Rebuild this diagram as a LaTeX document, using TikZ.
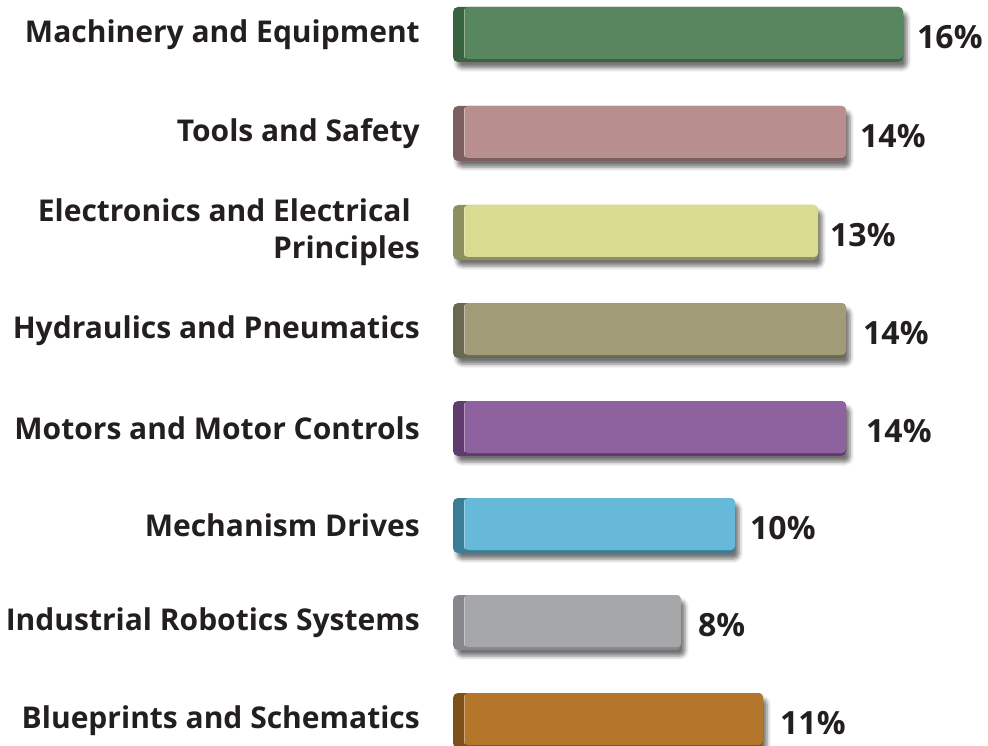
\documentclass[tikz,border=0pt]{standalone}
\usepackage{fontspec}
\setmainfont{Open Sans}
\usepackage{xcolor}
\usetikzlibrary{positioning,shadows.blur}
\definecolor{txt}{RGB}{35,31,32}
\definecolor{face1}{RGB}{88,134,94}
\definecolor{side1}{RGB}{56,98,64}
\definecolor{face2}{RGB}{184,143,142}
\definecolor{side2}{RGB}{125,95,95}
\definecolor{face3}{RGB}{217,219,144}
\definecolor{side3}{RGB}{141,143,95}
\definecolor{face4}{RGB}{162,155,120}
\definecolor{side4}{RGB}{107,104,80}
\definecolor{face5}{RGB}{142,98,159}
\definecolor{side5}{RGB}{96,60,110}
\definecolor{face6}{RGB}{102,185,216}
\definecolor{side6}{RGB}{60,125,150}
\definecolor{face7}{RGB}{166,167,169}
\definecolor{side7}{RGB}{135,136,139}
\definecolor{face8}{RGB}{180,118,43}
\definecolor{side8}{RGB}{125,80,25}

\begin{document}
\begin{tikzpicture}[x=1pt,y=-1pt,
  barbase/.style={rounded corners=5pt,blur shadow={shadow xshift=4pt,shadow yshift=-6pt,shadow blur radius=4pt,shadow opacity=55}},
  barface/.style={rounded corners=4pt},
  edge/.style={white,opacity=.35,line width=1pt},
  cat/.style={font=\fontsize{30}{37}\selectfont\bfseries,text=txt,inner sep=0pt,align=right},
  pct/.style={font=\fontsize{32}{38}\selectfont\bfseries,text=txt,inner sep=0pt}]
\useasboundingbox (0,0) rectangle (988,746);
% Machinery
\fill[side1,barbase] (453,7) rectangle (903,62); % base
\fill[face1,barface] (464,7) rectangle (903,59); % face
\draw[edge] (464.5,9) -- (464.5,58); % light edge
\node[cat,left = 33pt of {(453,34.5)}] (cat1) {Machinery and Equipment};
\node[pct,right = 14pt of {(903,37.5)}] (pct1) {16\%};
% Tools
\fill[side2,barbase] (453,106) rectangle (846,161);
\fill[face2,barface] (464,106) rectangle (846,158);
\draw[edge] (464.5,108) -- (464.5,157);
\node[cat,left = 33pt of {(453,133.5)}] (cat2) {Tools and Safety};
\node[pct,right = 14pt of {(846,136.5)}] (pct2) {14\%};
% Electronics
\fill[side3,barbase] (453,205) rectangle (818,260);
\fill[face3,barface] (464,205) rectangle (818,257);
\draw[edge] (464.5,207) -- (464.5,256);
\node[cat,left = 33pt of {(453,232.5)}] (cat3) {Electronics and Electrical\kern9pt\\Principles};
\node[pct,right = 12pt of {(818,235.5)}] (pct3) {13\%};
% Hydraulics
\fill[side4,barbase] (453,303) rectangle (846,358);
\fill[face4,barface] (464,303) rectangle (846,355);
\draw[edge] (464.5,305) -- (464.5,354);
\node[cat,left = 33pt of {(453,330.5)}] (cat4) {Hydraulics and Pneumatics};
\node[pct,right = 17pt of {(846,333.5)}] (pct4) {14\%};
% Motors
\fill[side5,barbase] (453,401) rectangle (846,456);
\fill[face5,barface] (464,401) rectangle (846,453);
\draw[edge] (464.5,403) -- (464.5,452);
\node[cat,left = 33pt of {(453,428.5)}] (cat5) {Motors and Motor Controls};
\node[pct,right = 20pt of {(846,431.5)}] (pct5) {14\%};
% Mechanism
\fill[side6,barbase] (453,498) rectangle (735,553);
\fill[face6,barface] (464,498) rectangle (735,550);
\draw[edge] (464.5,500) -- (464.5,549);
\node[cat,left = 33pt of {(453,525.5)}] (cat6) {Mechanism Drives};
\node[pct,right = 15pt of {(735,528.5)}] (pct6) {10\%};
% Robotics
\fill[side7,barbase] (453,595) rectangle (681,650);
\fill[face7,barface] (464,595) rectangle (681,647);
\draw[edge] (464.5,597) -- (464.5,646);
\node[cat,left = 33pt of {(453,622.5)}] (cat7) {Industrial Robotics Systems};
\node[pct,right = 17pt of {(681,625.5)}] (pct7) {8\%};
% Blueprints
\fill[side8,barbase] (453,693) rectangle (763,748);
\fill[face8,barface] (464,693) rectangle (763,745);
\draw[edge] (464.5,695) -- (464.5,744);
\node[cat,left = 33pt of {(453,720.5)}] (cat8) {Blueprints and Schematics};
\node[pct,right = 17pt of {(763,723.5)}] (pct8) {11\%};
\end{tikzpicture}
\end{document}
